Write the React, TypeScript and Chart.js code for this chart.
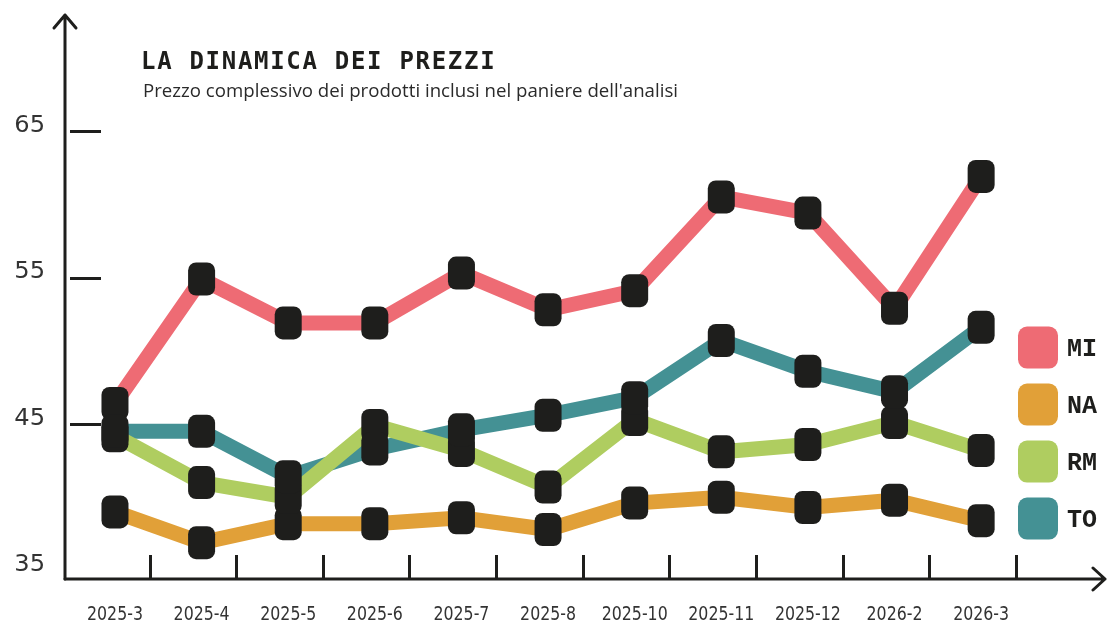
import { useEffect, useRef } from "react";
import { Chart, registerables } from "chart.js";

Chart.register(...registerables);

const titleText = "LA DINAMICA DEI PREZZI";
const subtitleText = "Prezzo complessivo dei prodotti inclusi nel paniere dell'analisi";

const categories = [
  "2025-3", "2025-4", "2025-5", "2025-6", "2025-7", "2025-8",
  "2025-10", "2025-11", "2025-12", "2026-2", "2026-3",
];
const seriesNames = ["MI", "NA", "RM", "TO"];
const miValues = [46.4, 54.9, 51.9, 51.9, 55.3, 52.8, 54.1, 60.5, 59.4, 52.9, 61.9];
const naValues = [39.0, 36.9, 38.2, 38.2, 38.6, 37.8, 39.6, 40.0, 39.3, 39.8, 38.4];
const rmValues = [44.2, 41.0, 40.0, 44.9, 43.2, 40.7, 45.3, 43.1, 43.6, 45.1, 43.2];
const toValues = [44.5, 44.5, 41.4, 43.3, 44.6, 45.6, 46.8, 50.7, 48.6, 47.2, 51.6];
const yTickValues = [35, 45, 55, 65];
const seriesColors = ["#ee6b74", "#e1a038", "#afcd60", "#449194"];

const allValues = [miValues, naValues, rmValues, toValues];
const INK = "#1e1e1c";

function scaledText(ctx: any, text: string, x: number, y: number, sx: number, align: string) {
  ctx.save();
  ctx.translate(x, y);
  ctx.scale(sx, 1);
  ctx.textAlign = align;
  ctx.fillText(text, 0, 0);
  ctx.restore();
}

const decorPlugin = {
  id: "xkcdDecor",
  beforeDatasetsDraw(chart: any) {
    const { ctx, chartArea, scales } = chart;
    const { left, right, top, bottom } = chartArea;
    const x = scales.x;
    const y = scales.y;
    ctx.save();
    ctx.strokeStyle = INK;
    ctx.lineWidth = 3;
    ctx.lineCap = "round";
    ctx.lineJoin = "round";
    ctx.beginPath();
    ctx.moveTo(left, bottom);
    ctx.lineTo(left, top);
    ctx.moveTo(left - 11, top + 13);
    ctx.lineTo(left, top);
    ctx.lineTo(left + 11, top + 13);
    ctx.stroke();
    ctx.beginPath();
    ctx.moveTo(left, bottom);
    ctx.lineTo(right, bottom);
    ctx.moveTo(right - 12, bottom - 11);
    ctx.lineTo(right, bottom);
    ctx.lineTo(right - 12, bottom + 11);
    ctx.stroke();
    ctx.lineCap = "butt";
    yTickValues.forEach((v) => {
      if (v === yTickValues[0]) return;
      const py = Math.round(y.getPixelForValue(v)) + 0.5;
      ctx.beginPath();
      ctx.moveTo(left + 5, py);
      ctx.lineTo(left + 36, py);
      ctx.stroke();
    });
    categories.forEach((_, i) => {
      const px = Math.round(x.getPixelForValue(i + 0.4)) + 0.5;
      ctx.beginPath();
      ctx.moveTo(px, bottom);
      ctx.lineTo(px, bottom - 24);
      ctx.stroke();
    });
    ctx.restore();
  },
  afterDatasetsDraw(chart: any) {
    const { ctx } = chart;
    ctx.save();
    ctx.fillStyle = INK;
    chart.data.datasets.forEach((_: any, di: number) => {
      const meta = chart.getDatasetMeta(di);
      meta.data.forEach((pt: any) => {
        const w = 27;
        const h = 33;
        ctx.beginPath();
        ctx.roundRect(pt.x - w / 2, pt.y - h / 2, w, h, 8);
        ctx.fill();
      });
    });
    ctx.restore();
  },
  afterDraw(chart: any) {
    const { ctx, chartArea, scales } = chart;
    const { left, bottom } = chartArea;
    const x = scales.x;
    const y = scales.y;
    ctx.save();
    // title
    ctx.fillStyle = INK;
    ctx.textBaseline = "alphabetic";
    ctx.textAlign = "left";
    ctx.font = "bold 24px 'DejaVu Sans Mono'";
    (ctx as any).letterSpacing = "1.7px";
    ctx.fillText(titleText, left + 76, 69);
    (ctx as any).letterSpacing = "0px";
    // subtitle (condensed)
    ctx.fillStyle = "#2a2a2a";
    ctx.font = "19px 'Open Sans'";
    const sw = ctx.measureText(subtitleText).width;
    scaledText(ctx, subtitleText, left + 78, 97, 535 / sw, "left");

    // y labels
    ctx.fillStyle = "#333";
    ctx.font = "23px 'DejaVu Sans'";
    ctx.textBaseline = "middle";
    yTickValues.forEach((v) => {
      scaledText(ctx, String(v), left - 20, y.getPixelForValue(v) - 5, 1.05, "right");
    });

    // x labels
    ctx.font = "20px 'DejaVu Sans'";
    ctx.textBaseline = "middle";
    categories.forEach((c, i) => {
      scaledText(ctx, c, x.getPixelForValue(i), bottom + 36, 0.79, "center");
    });

    // legend
    const rowGap = 57;
    const legendTop = y.getPixelForValue(yTickValues[2]) + 70;
    chart.data.datasets.forEach((ds: any, di: number) => {
      const cy = legendTop + di * rowGap;
      ctx.fillStyle = ds.borderColor;
      ctx.beginPath();
      ctx.roundRect(1018, cy - 21, 40, 42, 9);
      ctx.fill();
      ctx.fillStyle = INK;
      ctx.font = "bold 25px 'Liberation Mono'";
      ctx.textAlign = "left";
      ctx.textBaseline = "middle";
      ctx.fillText(ds.label, 1067, cy + 2);
    });
    ctx.restore();
  },
};

export default function App() {
  const canvasRef = useRef<HTMLCanvasElement | null>(null);

  useEffect(() => {
    const canvas = canvasRef.current;
    if (!canvas) return;
    const chart = new Chart(canvas, {
      type: "line",
      data: {
        datasets: seriesNames.map((name, k) => ({
          label: name,
          data: allValues[k].map((v, i) => ({ x: i, y: v })),
          borderColor: seriesColors[k],
          backgroundColor: seriesColors[k],
          borderWidth: 15,
          pointRadius: 0,
          pointHoverRadius: 0,
          tension: 0,
          fill: false,
        })),
      },
      options: {
        responsive: false,
        animation: false,
        layout: { padding: { left: 65, top: 15, right: 2, bottom: 45 } },
        scales: {
          x: { type: "linear", min: -0.577, max: 11.43, display: false },
          y: { type: "linear", min: 34.42, max: 72.92, display: false },
        },
        plugins: {
          legend: { display: false },
          tooltip: { enabled: false },
          title: { display: false },
        },
        events: [],
      },
      plugins: [decorPlugin],
    } as any);
    return () => chart.destroy();
  }, []);

  return (
    <div style={{ position: "absolute", left: 0, top: 0, width: 1107, height: 624, background: "#fff" }}>
      <canvas ref={canvasRef} width={1107} height={624} style={{ display: "block", width: 1107, height: 624 }} />
    </div>
  );
}
